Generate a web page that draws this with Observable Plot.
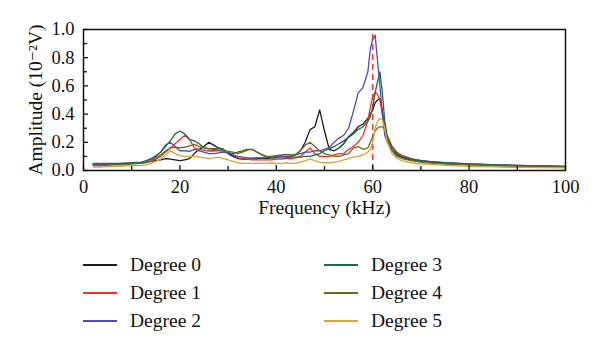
<!DOCTYPE html>
<html>
<head>
<meta charset="utf-8">
<script src="https://cdn.jsdelivr.net/npm/d3@7"></script>
<script src="https://cdn.jsdelivr.net/npm/@observablehq/plot@0.6"></script>
<style>
  body { margin: 0; background: #fff; }
  #wrap { position: relative; width: 600px; height: 355px; font-family: "Liberation Serif", "DejaVu Serif", serif; }
  #legend { position: absolute; left: 0; top: 230px; width: 600px; height: 125px; }
  .item { position: absolute; height: 24px; display: flex; align-items: center; font-size: 19.5px; color: #111; }
  .item svg { margin-right: 13px; }
</style>
</head>
<body>
<div id="wrap"><div id="chart"></div><div id="legend"></div></div>
<script>
const freq = [2,4,6,8,10,12,13,14,15,16,17,18,19,20,21,22,23,24,25,26,27,28,29,30,31,32,33,34,35,36,37,38,39,40,41,42,43,44,45,46,47,48,49,50,51,52,53,54,55,56,57,58,59,59.5,60,60.5,61,61.5,62,62.5,63,64,65,66,68,70,72,75,80,85,90,95,100];

const degree0 = [0.045,0.045,0.045,0.05,0.05,0.055,0.06,0.065,0.07,0.075,0.085,0.08,0.075,0.07,0.075,0.085,0.12,0.15,0.17,0.2,0.18,0.16,0.15,0.12,0.1,0.085,0.08,0.08,0.08,0.085,0.09,0.085,0.09,0.095,0.1,0.1,0.1,0.11,0.14,0.2,0.29,0.31,0.43,0.28,0.15,0.14,0.16,0.19,0.24,0.27,0.31,0.33,0.37,0.4,0.43,0.48,0.5,0.51,0.42,0.3,0.22,0.14,0.11,0.095,0.075,0.065,0.058,0.05,0.042,0.037,0.033,0.03,0.027];
const degree1 = [0.04,0.04,0.04,0.045,0.05,0.055,0.06,0.07,0.09,0.11,0.14,0.16,0.19,0.22,0.25,0.22,0.16,0.15,0.145,0.14,0.14,0.14,0.14,0.13,0.11,0.09,0.085,0.08,0.075,0.075,0.075,0.075,0.075,0.08,0.08,0.085,0.085,0.09,0.1,0.13,0.16,0.12,0.1,0.1,0.1,0.11,0.12,0.12,0.15,0.17,0.2,0.25,0.35,0.45,0.52,0.555,0.54,0.5,0.4,0.3,0.24,0.17,0.13,0.11,0.085,0.07,0.062,0.053,0.045,0.039,0.034,0.03,0.027];
const degree2 = [0.04,0.04,0.045,0.045,0.05,0.055,0.065,0.08,0.1,0.13,0.18,0.2,0.17,0.14,0.14,0.135,0.15,0.14,0.13,0.12,0.12,0.125,0.13,0.125,0.11,0.1,0.095,0.09,0.09,0.09,0.09,0.09,0.095,0.1,0.1,0.1,0.1,0.11,0.12,0.13,0.13,0.14,0.14,0.15,0.165,0.2,0.23,0.25,0.3,0.42,0.55,0.59,0.7,0.86,0.93,0.96,0.78,0.6,0.4,0.25,0.2,0.16,0.12,0.1,0.08,0.07,0.063,0.055,0.047,0.04,0.036,0.032,0.029];
const degree3 = [0.05,0.05,0.05,0.05,0.055,0.06,0.07,0.085,0.105,0.13,0.17,0.21,0.26,0.28,0.26,0.22,0.21,0.19,0.16,0.155,0.155,0.155,0.15,0.125,0.12,0.13,0.14,0.15,0.15,0.13,0.11,0.095,0.09,0.09,0.09,0.09,0.095,0.095,0.095,0.1,0.1,0.11,0.12,0.14,0.155,0.17,0.19,0.21,0.235,0.26,0.29,0.31,0.35,0.38,0.45,0.55,0.63,0.7,0.55,0.35,0.25,0.17,0.12,0.1,0.08,0.07,0.063,0.055,0.047,0.041,0.036,0.032,0.029];
const degree4 = [0.035,0.035,0.04,0.04,0.045,0.05,0.055,0.065,0.08,0.1,0.13,0.16,0.165,0.16,0.165,0.175,0.185,0.17,0.16,0.155,0.15,0.145,0.14,0.135,0.13,0.12,0.13,0.145,0.15,0.13,0.115,0.1,0.1,0.105,0.11,0.115,0.11,0.115,0.14,0.18,0.2,0.17,0.14,0.12,0.11,0.1,0.1,0.11,0.12,0.16,0.17,0.15,0.16,0.2,0.24,0.28,0.3,0.31,0.31,0.3,0.22,0.14,0.1,0.085,0.07,0.06,0.053,0.046,0.039,0.033,0.029,0.026,0.023];
const degree5 = [0.025,0.025,0.03,0.03,0.035,0.035,0.04,0.05,0.065,0.08,0.11,0.14,0.12,0.105,0.1,0.1,0.1,0.095,0.09,0.085,0.09,0.095,0.085,0.075,0.065,0.055,0.05,0.05,0.05,0.05,0.05,0.05,0.055,0.05,0.05,0.055,0.05,0.05,0.06,0.07,0.08,0.07,0.06,0.055,0.055,0.06,0.065,0.075,0.085,0.095,0.1,0.11,0.13,0.15,0.2,0.3,0.35,0.37,0.36,0.3,0.2,0.12,0.085,0.07,0.055,0.048,0.043,0.037,0.03,0.025,0.022,0.02,0.018];

const seriesNames = ["Degree 0","Degree 1","Degree 2","Degree 3","Degree 4","Degree 5"];
const seriesColors = ["#1a1a1a","#ff2a1f","#4b4fc0","#1f6b46","#6b6a1e","#d6a63a"];
const seriesValues = [degree0, degree1, degree2, degree3, degree4, degree5];

const xMajorTicks = [0,20,40,60,80,100];
const xMinorTicks = [10,30,50,70,90];
const yMajorTicks = [0,0.2,0.4,0.6,0.8,1.0];
const yMinorTicks = [0.1,0.3,0.5,0.7,0.9];
const markerFreq = [60];
const markerTop = 0.97;
const xLabel = "Frequency (kHz)";
const yLabel = "Amplitude (10\u207B\u00B2V)";

const rows = [];
seriesValues.forEach((vals, s) => vals.forEach((v, i) => rows.push({f: freq[i], a: v, s: seriesNames[s]})));

const font = "Liberation Serif, DejaVu Serif, serif";
const chart = Plot.plot({
  width: 600, height: 230,
  marginLeft: 83, marginRight: 35, marginTop: 29, marginBottom: 60,
  style: {fontFamily: font, fontSize: "18px", color: "#111", background: "#fff"},
  x: {domain: [0, 100]},
  y: {domain: [0, 1]},
  color: {domain: seriesNames, range: seriesColors},
  marks: [
    Plot.ruleX(markerFreq, {x: d => d, y1: 0, y2: markerTop, stroke: "#ff3b2b", strokeWidth: 1.6, strokeDasharray: "6,4"}),
    Plot.line(rows, {x: "f", y: "a", z: "s", stroke: "s", strokeWidth: 1.3}),
    Plot.axisX({ticks: xMajorTicks, tickSize: 0, tickPadding: 9, tickFormat: d3.format("d"), label: null, fontSize: 18.5}),
    Plot.axisX({ticks: xMajorTicks, tickSize: -5, text: null, label: null, strokeWidth: 1.3}),
    Plot.axisX({ticks: xMinorTicks, tickSize: -4, text: null, label: null, strokeWidth: 1.3}),
    Plot.axisY({ticks: yMajorTicks, tickSize: 0, tickPadding: 9, tickFormat: d3.format(".1f"), label: null, fontSize: 18.5}),
    Plot.axisY({ticks: yMajorTicks, tickSize: -5, text: null, label: null, strokeWidth: 1.3}),
    Plot.axisY({ticks: yMinorTicks, tickSize: -4, text: null, label: null, strokeWidth: 1.3}),
    Plot.frame({stroke: "#111", strokeWidth: 1.5}),
    Plot.text([xLabel], {text: d => d, frameAnchor: "bottom", dy: 43, fontSize: 19.5, fill: "#111"}),
    Plot.text([yLabel], {text: d => d, frameAnchor: "left", textAnchor: "middle", rotate: -90, dx: -48, fontSize: 19.5, fill: "#111"})
  ]
});
document.getElementById("chart").appendChild(chart);

const legend = document.getElementById("legend");
const colX = [83, 324];
const rowY = [23, 51, 79];
seriesNames.forEach((name, i) => {
  const col = Math.floor(i / 3), row = i % 3;
  const div = document.createElement("div");
  div.className = "item";
  div.style.left = colX[col] + "px";
  div.style.top = rowY[row] + "px";
  div.innerHTML = `<svg width="34" height="4"><line x1="0" y1="2" x2="34" y2="2" stroke="${seriesColors[i]}" stroke-width="2"/></svg><span>${name}</span>`;
  legend.appendChild(div);
});
</script>
</body>
</html>
